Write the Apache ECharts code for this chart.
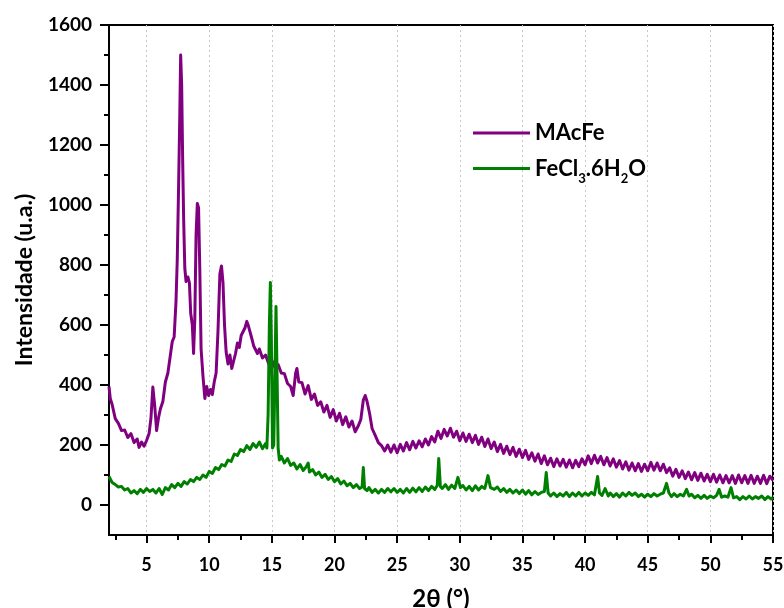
<!DOCTYPE html>
<html>
<head>
<meta charset="utf-8">
<script src="https://cdn.jsdelivr.net/npm/echarts@6/dist/echarts.min.js"></script>
<style>
html,body{margin:0;padding:0;background:#fff;}
#chart{width:784px;height:608px;}
</style>
</head>
<body>
<div id="chart"></div>
<script>
// ---- data ----
const seriesNames = ['MAcFe', 'FeCl3.6H2O'];

const twoThetaMAcFe = [
2.0,2.1,2.25,2.5,2.75,3.0,3.25,3.5,3.75,4.0,4.25,4.4,4.6,4.8,5.0,5.2,5.35,5.5,5.65,5.8,5.95,6.1,6.3,6.5,6.7,6.9,
7.05,7.2,7.35,7.45,7.55,7.65,7.72,7.8,7.88,7.96,8.05,8.15,8.3,8.42,8.52,8.65,8.75,8.85,8.95,9.05,9.15,9.25,9.35,9.5,9.65,9.8,9.95,
10.1,10.25,10.4,10.55,10.7,10.85,10.98,11.1,11.22,11.35,11.5,11.65,11.8,11.95,12.1,12.25,12.4,12.55,12.7,12.85,13.0,13.12,13.25,
13.4,13.55,13.7,13.85,14.0,14.25,14.5,14.75,15.0,15.25,15.5,15.75,16.0,16.25,16.5,16.7,16.9,17.0,17.15,
17.4,17.65,17.9,18.15,18.4,18.65,18.9,19.15,19.4,19.65,19.9,20.15,20.4,20.65,20.9,21.15,21.4,21.65,21.9,22.1,22.3,22.45,22.6,22.8,
23.0,23.25,23.5,23.75,24.0,24.25,24.5,24.75,25.0,25.25,25.5,25.75,26.0,26.25,26.5,26.75,27.0,27.25,27.5,27.75,28.0,28.25,28.5,28.75,
29.0,29.25,29.5,29.75,30.0,30.25,30.5,30.75,31.0,31.25,31.5,31.75,32.0,32.25,32.5,32.75,33.0,33.25,33.5,33.75,34.0,34.25,34.5,34.75,
35.0,35.25,35.5,35.75,36.0,36.25,36.5,36.75,37.0,37.25,37.5,37.75,38.0,38.25,38.5,38.75,39.0,39.25,39.5,39.75,40.0,40.25,40.5,40.75,
41.0,41.25,41.5,41.75,42.0,42.25,42.5,42.75,43.0,43.25,43.5,43.75,44.0,44.25,44.5,44.75,45.0,45.25,45.5,45.75,46.0,46.25,46.5,46.75,
47.0,47.25,47.5,47.75,48.0,48.25,48.5,48.75,49.0,49.25,49.5,49.75,50.0,50.25,50.5,50.75,51.0,51.25,51.5,51.75,52.0,52.25,52.5,52.75,
53.0,53.25,53.5,53.75,54.0,54.25,54.5,54.75,55.0
];
const intensityMAcFe = [
395,355,335,288,272,248,250,225,238,208,220,192,210,196,215,238,290,393,330,248,290,320,345,410,440,500,
545,560,680,820,1050,1300,1500,1400,1150,950,790,745,760,740,640,600,505,620,900,1005,990,780,520,430,355,395,365,
385,368,410,440,580,770,797,740,600,510,470,500,455,480,505,540,525,565,560,590,612,598,
600,555,530,525,505,520,490,500,470,482,458,468,440,438,405,395,365,440,455,410,
408,370,398,352,370,332,344,310,332,292,318,280,306,268,294,260,280,244,264,285,350,365,345,305,
255,232,208,198,180,200,176,200,174,202,180,208,184,212,190,214,194,220,200,228,210,246,222,252,
230,256,226,246,214,240,212,236,208,232,202,226,195,220,188,210,178,202,172,196,168,192,162,186,
158,182,152,174,146,170,138,164,134,156,128,154,130,152,126,150,124,149,128,154,134,164,138,166,
140,162,134,158,130,154,126,148,120,144,116,140,114,138,112,136,114,142,116,140,114,136,108,124,
96,119,92,114,88,110,84,108,82,106,80,102,78,102,76,100,74,98,74,98,72,100,74,98,
72,99,72,96,72,99,71,96,82
];

const twoThetaFeCl = [
2.0,2.25,2.5,2.75,3.0,3.25,3.5,3.75,4.0,4.25,4.5,4.75,5.0,5.25,5.5,5.75,6.0,6.25,6.5,6.75,7.0,7.25,7.5,7.75,
8.0,8.25,8.5,8.75,9.0,9.25,9.5,9.75,10.0,10.25,10.5,10.75,11.0,11.25,11.5,11.75,12.0,12.25,12.5,12.75,13.0,13.25,13.5,13.75,
14.0,14.25,14.5,14.6,14.7,14.8,14.88,14.96,15.05,15.15,15.25,15.33,15.42,15.5,15.6,15.75,16.0,16.25,16.5,16.75,17.0,17.25,17.5,17.75,17.9,
18.0,18.25,18.5,18.75,19.0,19.25,19.5,19.75,20.0,20.25,20.5,20.75,21.0,21.25,21.5,21.75,22.0,22.2,22.3,22.4,22.6,22.75,
23.0,23.25,23.5,23.75,24.0,24.25,24.5,24.75,25.0,25.25,25.5,25.75,26.0,26.25,26.5,26.75,27.0,27.25,27.5,27.75,28.0,28.2,28.32,28.45,
28.6,28.85,29.1,29.35,29.6,29.85,30.05,30.25,30.5,30.75,31.0,31.25,31.5,31.75,32.0,32.25,32.45,32.75,33.0,33.25,33.5,33.75,
34.0,34.25,34.5,34.75,35.0,35.25,35.5,35.75,36.0,36.25,36.5,36.75,36.9,37.05,37.25,37.5,37.75,38.0,38.25,38.5,38.75,39.0,39.25,
39.5,39.75,40.0,40.25,40.5,40.75,41.0,41.15,41.35,41.6,41.85,42.0,42.25,42.5,42.75,43.0,43.25,43.5,43.75,44.0,44.25,44.5,44.75,
45.0,45.25,45.5,45.75,46.0,46.25,46.5,46.7,46.9,47.1,47.35,47.6,47.85,48.1,48.3,48.5,48.75,49.0,49.25,49.5,49.75,50.0,50.25,50.5,
50.7,50.9,51.15,51.4,51.65,51.85,52.1,52.35,52.6,52.85,53.1,53.35,53.6,53.85,54.1,54.35,54.6,54.85,55.0
];
const intensityFeCl = [
95,75,68,60,62,50,55,40,48,38,52,42,55,45,52,40,55,35,58,50,68,58,72,62,
78,70,85,78,92,85,100,92,112,105,125,118,135,130,150,145,170,165,185,178,198,185,205,192,
210,188,205,190,300,600,742,550,190,200,450,662,420,190,150,162,140,155,132,140,120,135,115,128,140,
110,118,100,110,92,102,85,95,78,88,70,80,64,72,58,68,55,60,125,55,48,58,
42,52,40,52,42,55,44,55,42,52,40,55,42,56,44,58,45,60,48,62,52,65,155,62,
55,68,52,66,55,92,58,65,50,62,48,64,50,62,55,98,58,52,60,45,55,42,
52,40,50,38,50,36,48,34,45,35,42,45,108,40,30,40,28,38,30,42,28,40,30,
42,30,40,32,42,34,95,40,32,55,30,40,28,38,26,40,30,42,32,40,28,36,26,
36,28,38,30,36,40,72,40,28,38,28,36,30,52,30,36,24,32,22,32,22,30,24,32,
52,26,30,26,58,24,28,18,28,20,30,20,28,22,30,18,28,20,25
];

const xTickLabels = [5,10,15,20,25,30,35,40,45,50,55];
const xMinorTicks = [2.5,7.5,12.5,17.5,22.5,27.5,32.5,37.5,42.5,47.5,52.5];
const yTickLabels = [0,200,400,600,800,1000,1200,1400,1600];
const yMinorTicks = [100,300,500,700,900,1100,1300,1500];

// ---- chart ----
const FONT = 'Lato, "Open Sans", "DejaVu Sans", sans-serif';
const pairs = (xs, ys) => xs.map((x, i) => [x, ys[i]]);
const plain = v => String(v);
const chart = echarts.init(document.getElementById('chart'), null, {renderer: 'canvas'});

chart.setOption({
  animation: false,
  backgroundColor: '#fff',
  grid: {left: 109, right: 11, top: 25, bottom: 73, containLabel: false, outerBoundsMode: 'none',
         show: true, borderColor: '#000', borderWidth: 2, backgroundColor: 'transparent'},
  legend: {
    orient: 'vertical',
    left: 468,
    top: 117,
    itemWidth: 57,
    itemHeight: 3,
    itemGap: 8,
    icon: 'rect',
    data: seriesNames,
    formatter: function (name) {
      if (name === 'MAcFe') return '{n|MAcFe}';
      return '{n|FeCl}{s|3}{n|.6H}{s|2}{n|O}';
    },
    textStyle: {
      color: '#000',
      fontFamily: FONT,
      fontWeight: 'bold',
      fontSize: 22,
      rich: {
        n: {fontFamily: FONT, fontWeight: 'bold', fontSize: 22, lineHeight: 22, color: '#000', verticalAlign: 'middle'},
        s: {fontFamily: FONT, fontWeight: 'bold', fontSize: 13, lineHeight: 13, color: '#000', padding: [20, 0, 0, 0], verticalAlign: 'middle'}
      }
    }
  },
  xAxis: [
    {
      type: 'value', min: 2, max: 55,
      name: '2θ (°)', nameLocation: 'middle', nameGap: 52,
      nameTextStyle: {fontFamily: FONT, fontWeight: 'bold', fontSize: 24, color: '#000'},
      axisLine: {show: true, onZero: false, lineStyle: {color: '#000', width: 2}},
      axisTick: {show: true, inside: false, length: 8, lineStyle: {color: '#000', width: 2}, customValues: xTickLabels},
      axisLabel: {show: true, margin: 21, fontFamily: FONT, fontWeight: 'bold', fontSize: 18, color: '#000', customValues: xTickLabels, formatter: plain},
      splitLine: {show: true, lineStyle: {color: '#c8c8c8', type: [2, 3], width: 1}}
    },
    {
      type: 'value', min: 2, max: 55, gridIndex: 0, position: 'bottom',
      axisLine: {show: false, onZero: false},
      axisTick: {show: true, inside: false, length: 5, lineStyle: {color: '#000', width: 2}, customValues: xMinorTicks},
      axisLabel: {show: false},
      splitLine: {show: false}
    }
  ],
  yAxis: [
    {
      type: 'value', min: -100, max: 1600,
      name: 'Intensidade (u.a.)', nameLocation: 'middle', nameGap: 73, nameRotate: 90,
      nameTextStyle: {fontFamily: FONT, fontWeight: 'bold', fontSize: 23, color: '#000'},
      axisLine: {show: true, onZero: false, lineStyle: {color: '#000', width: 2}},
      axisTick: {show: true, inside: false, length: 9, lineStyle: {color: '#000', width: 2}, customValues: yTickLabels},
      axisLabel: {show: true, margin: 17, fontFamily: FONT, fontWeight: 'bold', fontSize: 19, color: '#000', customValues: yTickLabels, formatter: plain},
      splitLine: {show: false}
    },
    {
      type: 'value', min: -100, max: 1600, gridIndex: 0, position: 'left',
      axisLine: {show: false, onZero: false},
      axisTick: {show: true, inside: false, length: 5, lineStyle: {color: '#000', width: 2}, customValues: yMinorTicks},
      axisLabel: {show: false},
      splitLine: {show: false}
    }
  ],
  series: [
    {
      name: seriesNames[0], type: 'line', xAxisIndex: 0, yAxisIndex: 0,
      data: pairs(twoThetaMAcFe, intensityMAcFe),
      showSymbol: false, symbol: 'none', sampling: null,
      lineStyle: {color: '#800080', width: 3, join: 'round'},
      itemStyle: {color: '#800080'}
    },
    {
      name: seriesNames[1], type: 'line', xAxisIndex: 0, yAxisIndex: 0,
      data: pairs(twoThetaFeCl, intensityFeCl),
      showSymbol: false, symbol: 'none', sampling: null,
      lineStyle: {color: '#008000', width: 3, join: 'round'},
      itemStyle: {color: '#008000'}
    }
  ]
});
</script>
</body>
</html>
